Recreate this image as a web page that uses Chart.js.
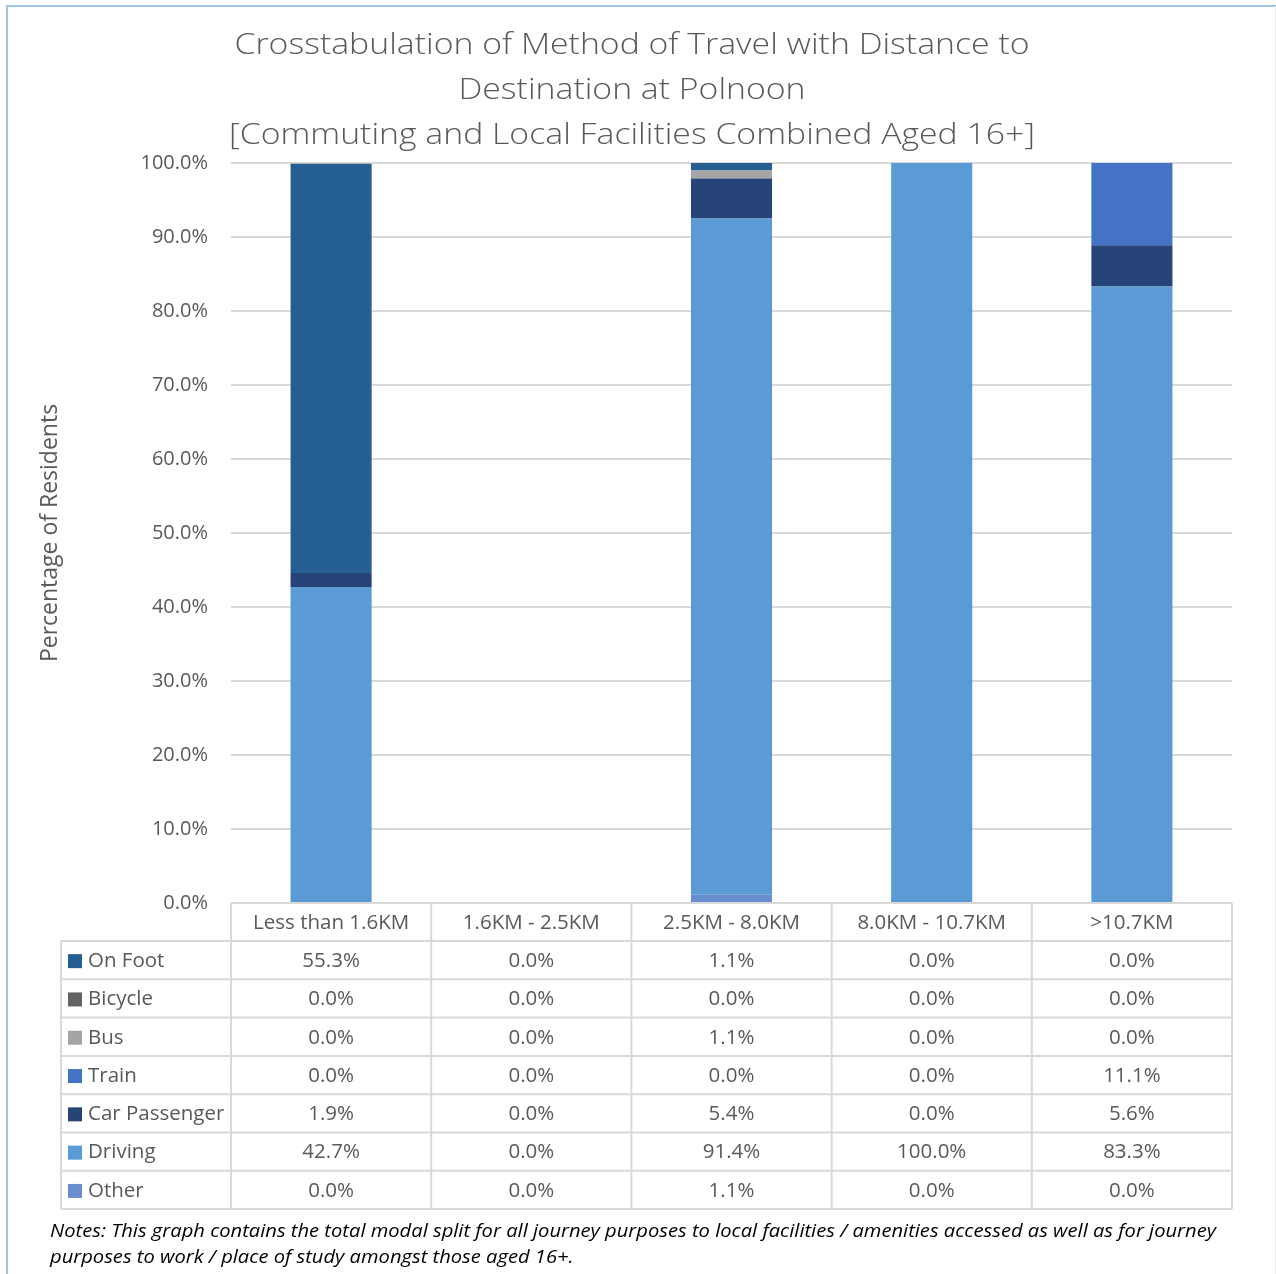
<!DOCTYPE html>
<html>
<head>
<meta charset="utf-8">
<title>Crosstabulation of Method of Travel with Distance to Destination at Polnoon</title>
<script src="https://cdn.jsdelivr.net/npm/chart.js@4.4.1/dist/chart.umd.min.js"></script>
<style>
  html, body { margin: 0; padding: 0; background: #ffffff; }
  #wrap { position: relative; width: 1276px; height: 1274px; }
  canvas { display: block; }
</style>
</head>
<body>
<div id="wrap"><canvas id="chart" width="1276" height="1274"></canvas></div>
<script>
// Distance bands (x axis categories)
const categories = ['Less than 1.6KM', '1.6KM - 2.5KM', '2.5KM - 8.0KM', '8.0KM - 10.7KM', '>10.7KM'];

// Travel modes, listed in data-table order (top row first)
const modes = ['On Foot', 'Bicycle', 'Bus', 'Train', 'Car Passenger', 'Driving', 'Other'];

// Share of residents (%) per mode for each distance band
const onFoot       = [55.3, 0.0, 1.1, 0.0, 0.0];
const bicycle      = [0.0, 0.0, 0.0, 0.0, 0.0];
const bus          = [0.0, 0.0, 1.1, 0.0, 0.0];
const train        = [0.0, 0.0, 0.0, 0.0, 11.1];
const carPassenger = [1.9, 0.0, 5.4, 0.0, 5.6];
const driving      = [42.7, 0.0, 91.4, 100.0, 83.3];
const other        = [0.0, 0.0, 1.1, 0.0, 0.0];

// Y axis tick values
const yTicks = [0, 10, 20, 30, 40, 50, 60, 70, 80, 90, 100];

const titleLines = [
  'Crosstabulation of Method of Travel with Distance to',
  'Destination at Polnoon',
  '[Commuting and Local Facilities Combined Aged 16+]'
];
const noteLines = [
  'Notes: This graph contains the total modal split for all journey purposes to local facilities / amenities accessed as well as for journey',
  'purposes to work / place of study amongst those aged 16+.'
];

const seriesValues = [onFoot, bicycle, bus, train, carPassenger, driving, other];
const seriesColors = ['#255e91', '#636363', '#a5a5a5', '#4472c4', '#264478', '#5b9bd5', '#698ed0'];

const FONT = "'Open Sans', 'DejaVu Sans', sans-serif";
const TEXT = '#595959';
const RULE = '#d9d9d9';

// Stacks build from the first dataset upward, so the table order is reversed
const datasets = modes.map((m, i) => ({
  label: m,
  data: seriesValues[i],
  backgroundColor: seriesColors[i],
  borderWidth: 0,
  categoryPercentage: 1.0,
  barPercentage: 0.405
})).reverse();

// Draws text horizontally scaled by scaleX
function drawScaled(ctx, text, cx, y, scaleX) {
  ctx.save();
  ctx.translate(cx, y);
  ctx.scale(scaleX, 1);
  ctx.fillText(text, 0, 0);
  ctx.restore();
}

const framePlugin = {
  id: 'frame',
  beforeDraw(chart) {
    const ctx = chart.ctx;
    ctx.save();
    ctx.fillStyle = '#ffffff';
    ctx.fillRect(0, 0, chart.width, chart.height);
    ctx.strokeStyle = '#9dc3e6';
    ctx.lineWidth = 2;
    ctx.beginPath();
    ctx.moveTo(7, chart.height);
    ctx.lineTo(7, 6);
    ctx.lineTo(chart.width, 6);
    ctx.stroke();
    ctx.strokeStyle = '#f0f0f0';
    ctx.lineWidth = 1;
    ctx.beginPath();
    ctx.moveTo(chart.width - 0.5, 6);
    ctx.lineTo(chart.width - 0.5, chart.height);
    ctx.stroke();
    ctx.restore();
  }
};

const titlePlugin = {
  id: 'multiTitle',
  afterDraw(chart) {
    const ctx = chart.ctx;
    ctx.save();
    ctx.font = '300 29px ' + FONT;
    ctx.fillStyle = TEXT;
    ctx.textAlign = 'center';
    ctx.textBaseline = 'alphabetic';
    const sx = 795 / ctx.measureText(titleLines[0]).width;
    const baselines = [54, 99, 144];
    titleLines.forEach((t, i) => drawScaled(ctx, t, 632, baselines[i], sx));
    ctx.restore();
  }
};

const tablePlugin = {
  id: 'dataTable',
  afterDraw(chart) {
    const ctx = chart.ctx;
    const area = chart.chartArea;
    const x = chart.scales.x;
    const n = categories.length;
    const colW = area.width / n;
    const top = area.bottom;
    const headerH = 38;
    const rowH = 38.3;
    const legendLeft = 61;
    const bottom = top + headerH + rowH * modes.length;

    ctx.save();
    ctx.strokeStyle = RULE;
    ctx.lineWidth = 2;
    ctx.beginPath();
    // header row
    ctx.moveTo(area.left, top);
    ctx.lineTo(area.right, top);
    // body rows
    for (let r = 0; r <= modes.length; r++) {
      const y = top + headerH + r * rowH;
      ctx.moveTo(legendLeft, y);
      ctx.lineTo(area.right, y);
    }
    // column separators
    for (let c = 0; c <= n; c++) {
      const cx = area.left + c * colW;
      ctx.moveTo(cx, top);
      ctx.lineTo(cx, bottom);
    }
    ctx.moveTo(legendLeft, top + headerH);
    ctx.lineTo(legendLeft, bottom);
    ctx.stroke();

    ctx.font = '20.5px ' + FONT;
    ctx.fillStyle = TEXT;
    ctx.textBaseline = 'middle';
    ctx.textAlign = 'center';
    categories.forEach((c, i) => {
      ctx.fillText(c, x.getPixelForValue(i), top + headerH / 2 + 1);
    });

    modes.forEach((m, r) => {
      const cy = top + headerH + r * rowH + rowH / 2 + 1;
      ctx.fillStyle = seriesColors[r];
      ctx.fillRect(68, cy - 7, 14, 14);
      ctx.fillStyle = TEXT;
      ctx.textAlign = 'left';
      ctx.fillText(m, 88, cy);
      ctx.textAlign = 'center';
      seriesValues[r].forEach((v, i) => {
        ctx.fillText(v.toFixed(1) + '%', x.getPixelForValue(i), cy);
      });
    });

    // footnote
    ctx.font = 'italic 19px ' + FONT;
    ctx.fillStyle = '#000000';
    ctx.textAlign = 'left';
    ctx.textBaseline = 'alphabetic';
    const sx = 1166 / ctx.measureText(noteLines[0]).width;
    drawScaled(ctx, noteLines[0], 50, 1237, sx);
    drawScaled(ctx, noteLines[1], 50, 1263, sx);
    ctx.restore();
  }
};

new Chart(document.getElementById('chart'), {
  type: 'bar',
  data: { labels: categories, datasets },
  options: {
    responsive: false,
    animation: false,
    devicePixelRatio: 1,
    layout: { padding: { top: 163, right: 44, bottom: 371, left: 0 } },
    plugins: {
      legend: { display: false },
      title: { display: false },
      tooltip: { enabled: false }
    },
    scales: {
      x: {
        display: false,
        stacked: true
      },
      y: {
        stacked: true,
        min: 0,
        max: 100,
        afterFit(scale) { scale.width = 231; },
        afterBuildTicks(scale) { scale.ticks = yTicks.map(v => ({ value: v })); },
        border: { display: false },
        grid: { color: RULE, lineWidth: 2, drawTicks: false },
        ticks: {
          padding: 23,
          color: TEXT,
          font: { family: FONT, size: 20 },
          callback: v => Number(v).toFixed(1) + '%'
        },
        title: {
          display: true,
          text: 'Percentage of Residents',
          color: TEXT,
          font: { family: FONT, size: 23 },
          padding: { top: 37, bottom: 0 }
        }
      }
    }
  },
  plugins: [framePlugin, titlePlugin, tablePlugin]
});
</script>
</body>
</html>
